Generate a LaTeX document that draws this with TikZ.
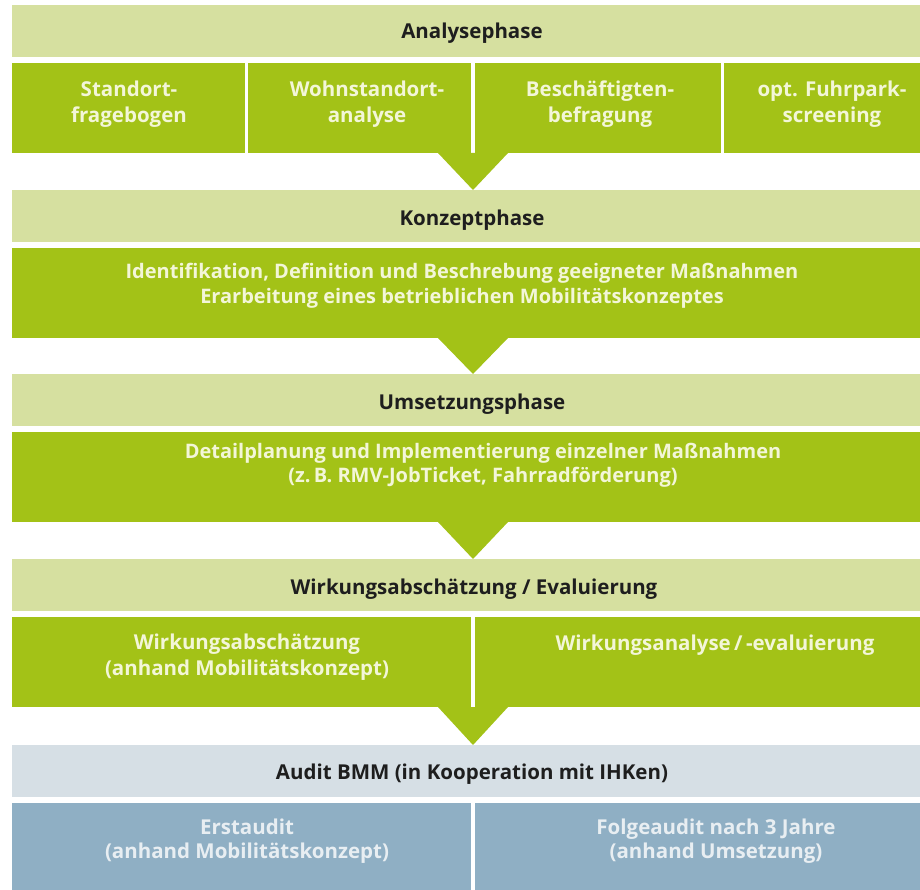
\documentclass[tikz,border=0pt]{standalone}
\usepackage{fontspec}
\setmainfont{Open Sans}
\definecolor{bandgreen}{HTML}{D6E0A0}
\definecolor{cellgreen}{HTML}{A3C217}
\definecolor{bandblue}{HTML}{D6DFE5}
\definecolor{cellblue}{HTML}{8FAFC4}
\definecolor{darktext}{HTML}{1E1E1E}
\definecolor{lighttext}{HTML}{F3F6D8}
\definecolor{bluetext}{HTML}{E8EEF2}
\tikzset{
  box/.style={inner sep=0pt, outer sep=0pt, anchor=north west, draw=none},
  headtext/.style={font=\bfseries\fontsize{20.5}{24}\selectfont, text=darktext, anchor=base, inner sep=0pt},
  celltext/.style={font=\bfseries\fontsize{20.5}{26}\selectfont, text=lighttext, align=center, inner sep=0pt},
  wide/.style={font=\bfseries\fontsize{20}{24.5}\selectfont, text=lighttext, align=center, inner sep=0pt},
  audittext/.style={font=\bfseries\fontsize{20.5}{24.5}\selectfont, text=bluetext, align=center, inner sep=0pt},
  pointer/.style={fill=cellgreen}
}
\begin{document}
\begin{tikzpicture}[x=1pt,y=-1pt]
\useasboundingbox (0,0) rectangle (920,890);
\fill[white] (0,0) rectangle (920,890);
\begin{scope}
\clip (0,0) rectangle (920,890);
% Row 1
\node[box, fill=bandgreen, minimum width=922pt, minimum height=52pt] (b1) at (12,5) {};
\node[box, fill=cellgreen, minimum width=233pt, minimum height=90pt] (c11) at (12,63) {};
\node[box, fill=cellgreen, minimum width=223pt, minimum height=90pt] (c12) at (248,63) {};
\node[box, fill=cellgreen, minimum width=246pt, minimum height=90pt] (c13) at (475,63) {};
\node[box, fill=cellgreen, minimum width=210pt, minimum height=90pt] (c14) at (724,63) {};
\fill[pointer] (438,153) -- (508,153) -- (473,190) -- cycle;
% Row 2
\node[box, fill=bandgreen, minimum width=922pt, minimum height=52pt] (b2) at (12,190) {};
\node[box, fill=cellgreen, minimum width=922pt, minimum height=90pt] (c2) at (12,248) {};
\fill[pointer] (438,338) -- (508,338) -- (473,374) -- cycle;
% Row 3
\node[box, fill=bandgreen, minimum width=922pt, minimum height=52pt] (b3) at (12,374) {};
\node[box, fill=cellgreen, minimum width=922pt, minimum height=90pt] (c3) at (12,432) {};
\fill[pointer] (438,522) -- (508,522) -- (473,559) -- cycle;
% Row 4
\node[box, fill=bandgreen, minimum width=922pt, minimum height=52pt] (b4) at (12,559) {};
\node[box, fill=cellgreen, minimum width=459pt, minimum height=90pt] (c41) at (12,617) {};
\node[box, fill=cellgreen, minimum width=459pt, minimum height=90pt] (c42) at (475,617) {};
\fill[pointer] (438,707) -- (508,707) -- (473,745) -- cycle;
% Row 5
\node[box, fill=bandblue, minimum width=922pt, minimum height=52pt] (b5) at (12,745) {};
\node[box, fill=cellblue, minimum width=459pt, minimum height=95pt] (c51) at (12,803) {};
\node[box, fill=cellblue, minimum width=459pt, minimum height=95pt] (c52) at (475,803) {};
\end{scope}
% Texts
\node[headtext] (t1) at (472,39) {Analysephase};
\node[celltext] (t11) at (129,104) {Standort-\\fragebogen};
\node[celltext] (t12) at (367,104) {Wohnstandort-\\analyse};
\node[celltext] (t13) at (600,104) {Beschäftigten-\\befragung};
\node[celltext] (t14) at (832,104) {opt. Fuhrpark-\\screening};
\node[headtext] (t2) at (472,226) {Konzeptphase};
\node[wide] (t21) at (462,286) {Identifikation, Definition und Beschrebung geeigneter Maßnahmen\\Erarbeitung eines betrieblichen Mobilitätskonzeptes};
\node[headtext] (t3) at (472,409) {Umsetzungsphase};
\node[wide] (t31) at (483,465) {Detailplanung und Implementierung einzelner Maßnahmen\\(z.\,B. RMV-JobTicket, Fahrradförderung)};
\node[headtext] (t4) at (474,594) {Wirkungsabschätzung / Evaluierung};
\node[celltext] (t41) at (247,657) {Wirkungsabschätzung\\(anhand Mobilitätskonzept)};
\node[celltext, anchor=base] (t42) at (715,650) {Wirkungsanalyse\,/\,-evaluierung};
\node[headtext] (t5) at (472,779) {Audit BMM (in Kooperation mit IHKen)};
\node[audittext] (t51) at (247,841) {Erstaudit\\(anhand Mobilitätskonzept)};
\node[audittext] (t52) at (716,841) {Folgeaudit nach 3 Jahre\\(anhand Umsetzung)};
\end{tikzpicture}
\end{document}
